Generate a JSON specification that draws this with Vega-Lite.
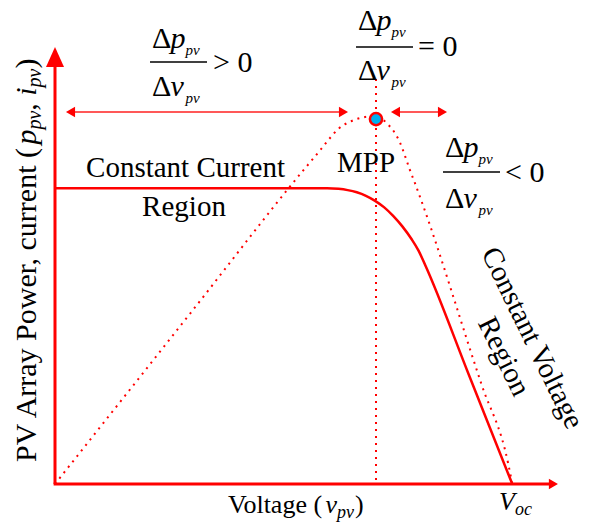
{
  "$schema": "https://vega.github.io/schema/vega-lite/v6.json",
  "width": 503,
  "height": 437,
  "autosize": {"type": "none"},
  "padding": {"left": 55, "top": 47, "right": 32, "bottom": 39},
  "background": "white",
  "config": {"view": {"stroke": null}},
  "datasets": {
    "iv": [
      {"x": 0, "y": 67.7}, {"x": 59.5, "y": 67.7}, {"x": 62, "y": 67.55}, {"x": 64, "y": 67.25},
      {"x": 66, "y": 66.75}, {"x": 68, "y": 65.95}, {"x": 70, "y": 64.8}, {"x": 72, "y": 63.3},
      {"x": 74, "y": 61.3}, {"x": 76, "y": 58.9}, {"x": 78, "y": 56.0}, {"x": 79.5, "y": 53.4},
      {"x": 81, "y": 50.0}, {"x": 90.5, "y": 25.0}, {"x": 100, "y": 0}
    ],
    "pv": [
      {"x": 0, "y": 0}, {"x": 30, "y": 39.6}, {"x": 54, "y": 71.4}, {"x": 58, "y": 76.4},
      {"x": 60, "y": 79.0}, {"x": 62, "y": 81.3}, {"x": 64.5, "y": 82.9}, {"x": 67.4, "y": 83.9},
      {"x": 70.2, "y": 84.2}, {"x": 72.8, "y": 82.3}, {"x": 74.4, "y": 80.2}, {"x": 75.5, "y": 78.0},
      {"x": 76.6, "y": 74.9}, {"x": 77.6, "y": 71.9}, {"x": 78.7, "y": 68.9}, {"x": 80.3, "y": 64.3},
      {"x": 93.3, "y": 22.7}, {"x": 99.1, "y": 4.7}, {"x": 100, "y": 0}
    ],
    "lines": [
      {"part": "axis", "x": 0, "y": 0, "x2": 0, "y2": 95.9},
      {"part": "axis", "x": -0.3, "y": 0, "x2": 108.2, "y2": 0},
      {"part": "arrow", "x": 3.4, "y": 85.13, "x2": 63.1, "y2": 85.13},
      {"part": "arrow", "x": 74.5, "y": 85.13, "x2": 84.7, "y2": 85.13},
      {"part": "mpp", "x": 70.2, "y": 0.9, "x2": 70.2, "y2": 93.6},
      {"part": "bar", "x": 20.78, "y": 96.57, "x2": 33.24, "y2": 96.57},
      {"part": "bar", "x": 65.83, "y": 100.0, "x2": 78.29, "y2": 100.0},
      {"part": "bar", "x": 84.85, "y": 71.4, "x2": 97.32, "y2": 71.4}
    ],
    "heads": [
      {"part": "yaxis", "x": 0, "y": 97.7, "dir": "up"},
      {"part": "xaxis", "x": 109.0, "y": 0, "dir": "right"},
      {"part": "arrow", "x": 3.39, "y": 85.13, "dir": "left"},
      {"part": "arrow", "x": 63.09, "y": 85.13, "dir": "right"},
      {"part": "arrow", "x": 74.46, "y": 85.13, "dir": "left"},
      {"part": "arrow", "x": 84.74, "y": 85.13, "dir": "right"}
    ],
    "mpp": [{"x": 70.2, "y": 83.5}],
    "texts": [
      {"kind": "label", "text": "Constant Current", "x": 28.54, "y": 70.25},
      {"kind": "label", "text": "Region", "x": 28.21, "y": 61.33},
      {"kind": "label", "text": "MPP", "x": 68.01, "y": 71.4},
      {"kind": "rot", "text": "Constant Voltage", "x": 104.4, "y": 33.4},
      {"kind": "rot", "text": "Region", "x": 98.2, "y": 29.2},
      {"kind": "ytitle", "text": "PV Array Power, current (", "x": -4.155, "y": 5.03},
      {"kind": "ytitle", "text": ", ", "x": -4.155, "y": 85.42},
      {"kind": "ytitle", "text": ")", "x": -4.155, "y": 95.08},
      {"kind": "ytitle_i", "text": "p", "x": -4.155, "y": 77.67},
      {"kind": "ytitle_i", "text": "i", "x": -4.155, "y": 88.86},
      {"kind": "ytitle_sub", "text": "pv", "x": -3.06, "y": 81.1},
      {"kind": "ytitle_sub", "text": "pv", "x": -3.06, "y": 90.76},
      {"kind": "xtitle", "text": "Voltage (", "x": 37.83, "y": -6.64},
      {"kind": "xtitle", "text": ")", "x": 65.61, "y": -6.64},
      {"kind": "xtitle_i", "text": "v", "x": 59.16, "y": -6.64},
      {"kind": "xtitle_i", "text": "V", "x": 97.1, "y": -5.95},
      {"kind": "xtitle_sub", "text": "pv", "x": 61.67, "y": -7.78},
      {"kind": "xtitle_sub", "text": "oc", "x": 100.6, "y": -7.09},
      {"kind": "frac", "text": "Δ", "x": 21.21, "y": 99.77},
      {"kind": "frac", "text": "Δ", "x": 21.21, "y": 88.79},
      {"kind": "frac", "text": "> 0", "x": 34.55, "y": 94.28},
      {"kind": "frac", "text": "Δ", "x": 66.26, "y": 103.89},
      {"kind": "frac", "text": "Δ", "x": 66.26, "y": 92.45},
      {"kind": "frac", "text": "= 0", "x": 79.38, "y": 97.94},
      {"kind": "frac", "text": "Δ", "x": 85.29, "y": 74.83},
      {"kind": "frac", "text": "Δ", "x": 85.29, "y": 63.16},
      {"kind": "frac", "text": "< 0", "x": 98.41, "y": 69.11},
      {"kind": "frac_i", "text": "p", "x": 25.24, "y": 99.77},
      {"kind": "frac_i", "text": "v", "x": 25.24, "y": 88.79},
      {"kind": "frac_i", "text": "p", "x": 70.29, "y": 103.89},
      {"kind": "frac_i", "text": "v", "x": 70.29, "y": 92.45},
      {"kind": "frac_i", "text": "p", "x": 89.31, "y": 74.83},
      {"kind": "frac_i", "text": "v", "x": 89.31, "y": 63.16},
      {"kind": "frac_sub", "text": "pv", "x": 28.52, "y": 98.17},
      {"kind": "frac_sub", "text": "pv", "x": 28.52, "y": 87.19},
      {"kind": "frac_sub", "text": "pv", "x": 73.57, "y": 102.29},
      {"kind": "frac_sub", "text": "pv", "x": 73.57, "y": 90.85},
      {"kind": "frac_sub", "text": "pv", "x": 92.59, "y": 73.23},
      {"kind": "frac_sub", "text": "pv", "x": 92.59, "y": 61.56}
    ]
  },
  "encoding": {
    "x": {"field": "x", "type": "quantitative", "scale": {"domain": [0, 110], "nice": false, "zero": false}, "axis": null},
    "y": {"field": "y", "type": "quantitative", "scale": {"domain": [0, 100], "nice": false, "zero": false}, "axis": null}
  },
  "layer": [
    {
      "data": {"name": "pv"},
      "mark": {"type": "line", "color": "#ff0000", "strokeWidth": 2, "strokeDash": [2, 5], "interpolate": "monotone"},
      "encoding": {"order": {"field": "x", "type": "quantitative"}}
    },
    {
      "data": {"name": "iv"},
      "mark": {"type": "line", "color": "#ff0000", "strokeWidth": 2.5, "interpolate": "monotone"},
      "encoding": {"order": {"field": "x", "type": "quantitative"}}
    },
    {
      "data": {"name": "lines"},
      "transform": [{"filter": "datum.part === 'axis'"}],
      "mark": {"type": "rule", "color": "#ff0000", "strokeWidth": 3},
      "encoding": {"x2": {"field": "x2"}, "y2": {"field": "y2"}}
    },
    {
      "data": {"name": "lines"},
      "transform": [{"filter": "datum.part === 'arrow'"}],
      "mark": {"type": "rule", "color": "#ff2020", "strokeWidth": 1.6},
      "encoding": {"x2": {"field": "x2"}, "y2": {"field": "y2"}}
    },
    {
      "data": {"name": "lines"},
      "transform": [{"filter": "datum.part === 'mpp'"}],
      "mark": {"type": "rule", "color": "#ff0000", "strokeWidth": 2, "strokeDash": [2, 5]},
      "encoding": {"x2": {"field": "x2"}, "y2": {"field": "y2"}}
    },
    {
      "data": {"name": "lines"},
      "transform": [{"filter": "datum.part === 'bar'"}],
      "mark": {"type": "rule", "color": "#000000", "strokeWidth": 1.5},
      "encoding": {"x2": {"field": "x2"}, "y2": {"field": "y2"}}
    },
    {
      "data": {"name": "heads"},
      "transform": [{"filter": "datum.part === 'yaxis'"}],
      "mark": {"type": "point", "filled": true, "color": "#ff0000", "opacity": 1, "shape": "M0,-1L0.9,1L-0.9,1Z", "size": 400, "strokeWidth": 0}
    },
    {
      "data": {"name": "heads"},
      "transform": [{"filter": "datum.part !== 'yaxis'"}],
      "mark": {"type": "point", "filled": true, "color": "#ff0000", "opacity": 1, "size": 110, "strokeWidth": 0},
      "encoding": {
        "shape": {"field": "dir", "type": "nominal", "scale": {"domain": ["left", "right"], "range": ["triangle-left", "triangle-right"]}, "legend": null}
      }
    },
    {
      "data": {"name": "mpp"},
      "mark": {"type": "point", "shape": "circle", "filled": true, "fill": "#00b0f0", "stroke": "#ff0000", "strokeWidth": 2.5, "opacity": 1, "size": 150}
    },
    {
      "data": {"name": "texts"},
      "transform": [{"filter": "datum.kind === 'label'"}],
      "mark": {"type": "text", "font": "Liberation Serif", "fontSize": 29, "align": "center", "baseline": "alphabetic", "color": "#000000"},
      "encoding": {"text": {"field": "text"}}
    },
    {
      "data": {"name": "texts"},
      "transform": [{"filter": "datum.kind === 'rot'"}],
      "mark": {"type": "text", "font": "Liberation Serif", "fontSize": 29, "align": "center", "baseline": "middle", "angle": 64, "color": "#000000"},
      "encoding": {"text": {"field": "text"}}
    },
    {
      "data": {"name": "texts"},
      "transform": [{"filter": "datum.kind === 'ytitle'"}],
      "mark": {"type": "text", "font": "Liberation Serif", "fontSize": 30, "align": "left", "baseline": "alphabetic", "angle": 270, "color": "#000000"},
      "encoding": {"text": {"field": "text"}}
    },
    {
      "data": {"name": "texts"},
      "transform": [{"filter": "datum.kind === 'ytitle_i'"}],
      "mark": {"type": "text", "font": "Liberation Serif", "fontStyle": "italic", "fontSize": 30, "align": "left", "baseline": "alphabetic", "angle": 270, "color": "#000000"},
      "encoding": {"text": {"field": "text"}}
    },
    {
      "data": {"name": "texts"},
      "transform": [{"filter": "datum.kind === 'ytitle_sub'"}],
      "mark": {"type": "text", "font": "Liberation Serif", "fontStyle": "italic", "fontSize": 20, "align": "left", "baseline": "alphabetic", "angle": 270, "color": "#000000"},
      "encoding": {"text": {"field": "text"}}
    },
    {
      "data": {"name": "texts"},
      "transform": [{"filter": "datum.kind === 'xtitle'"}],
      "mark": {"type": "text", "font": "Liberation Serif", "fontSize": 26, "align": "left", "baseline": "alphabetic", "color": "#000000"},
      "encoding": {"text": {"field": "text"}}
    },
    {
      "data": {"name": "texts"},
      "transform": [{"filter": "datum.kind === 'xtitle_i'"}],
      "mark": {"type": "text", "font": "Liberation Serif", "fontStyle": "italic", "fontSize": 26, "align": "left", "baseline": "alphabetic", "color": "#000000"},
      "encoding": {"text": {"field": "text"}}
    },
    {
      "data": {"name": "texts"},
      "transform": [{"filter": "datum.kind === 'xtitle_sub'"}],
      "mark": {"type": "text", "font": "Liberation Serif", "fontStyle": "italic", "fontSize": 18, "align": "left", "baseline": "alphabetic", "color": "#000000"},
      "encoding": {"text": {"field": "text"}}
    },
    {
      "data": {"name": "texts"},
      "transform": [{"filter": "datum.kind === 'frac'"}],
      "mark": {"type": "text", "font": "Liberation Serif", "fontSize": 30, "align": "left", "baseline": "alphabetic", "color": "#000000"},
      "encoding": {"text": {"field": "text"}}
    },
    {
      "data": {"name": "texts"},
      "transform": [{"filter": "datum.kind === 'frac_i'"}],
      "mark": {"type": "text", "font": "Liberation Serif", "fontStyle": "italic", "fontSize": 30, "align": "left", "baseline": "alphabetic", "color": "#000000"},
      "encoding": {"text": {"field": "text"}}
    },
    {
      "data": {"name": "texts"},
      "transform": [{"filter": "datum.kind === 'frac_sub'"}],
      "mark": {"type": "text", "font": "Liberation Serif", "fontStyle": "italic", "fontSize": 15, "align": "left", "baseline": "alphabetic", "color": "#000000"},
      "encoding": {"text": {"field": "text"}}
    }
  ]
}
